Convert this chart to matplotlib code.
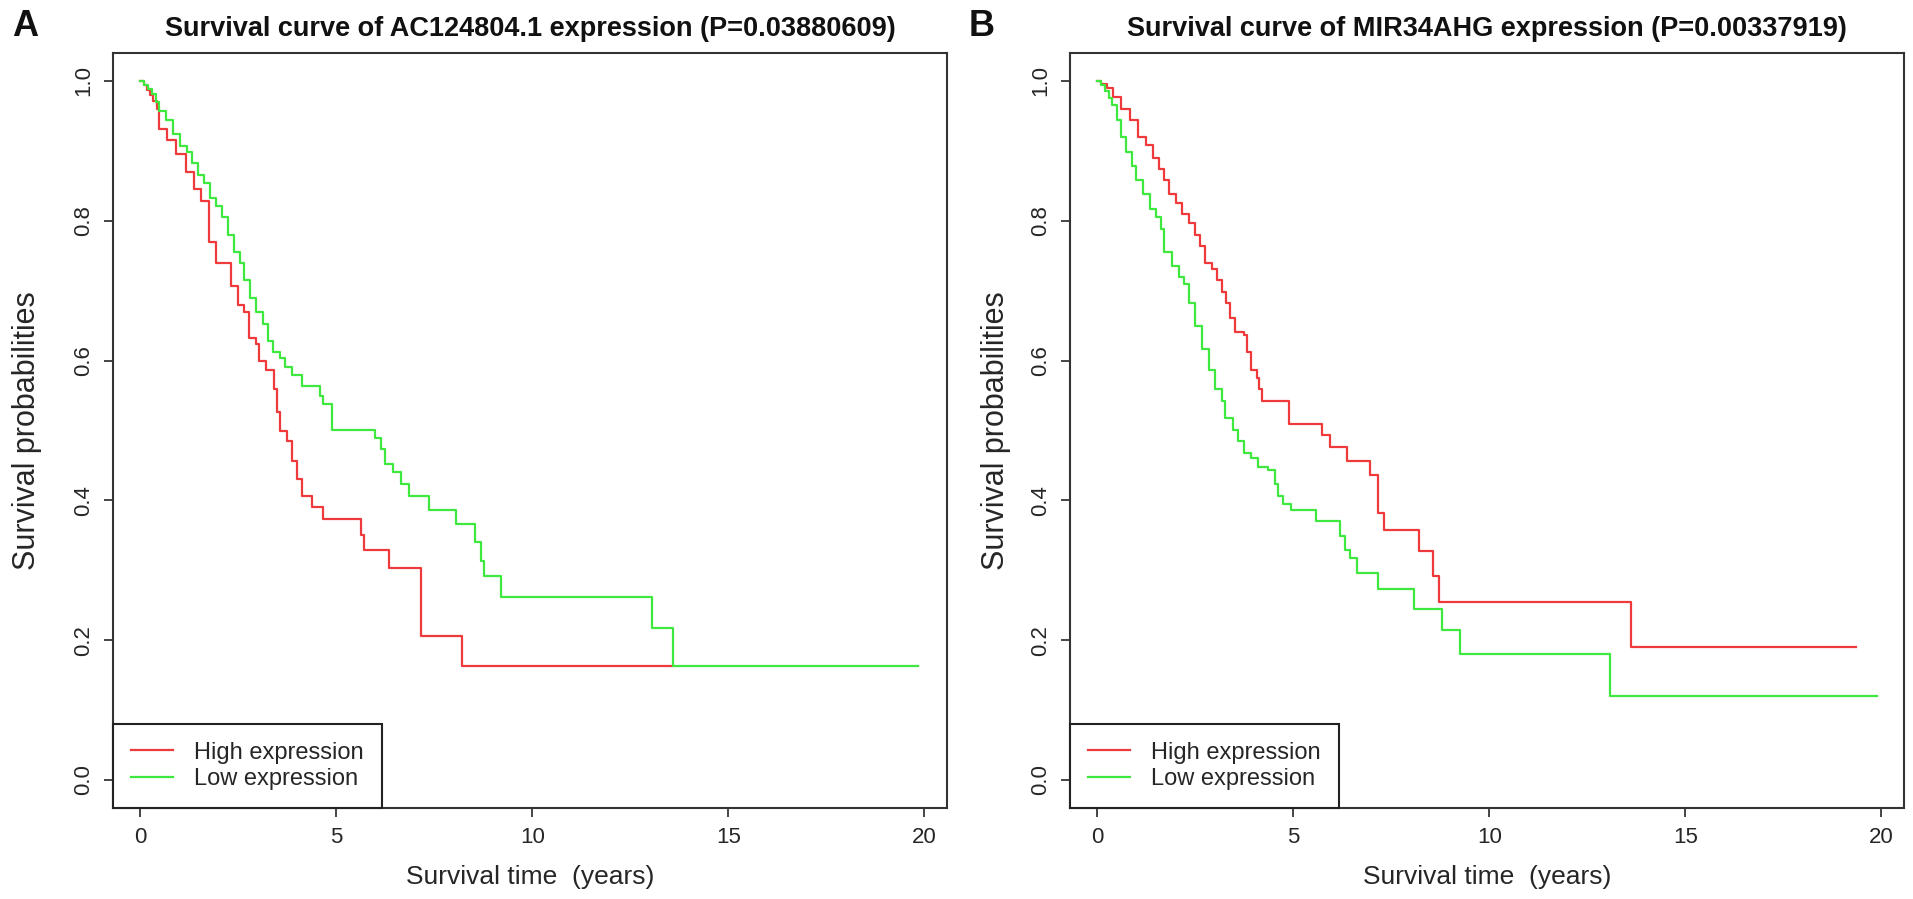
import numpy as np
import matplotlib
matplotlib.use('Agg')
import matplotlib.pyplot as plt

plt.rcParams['font.family'] = ['Liberation Sans', 'DejaVu Sans']

# Panel A: AC124804.1 (Kaplan-Meier steps, years / survival)
a_high_t = [0, 0.08, 0.16, 0.24, 0.33, 0.42, 0.48, 0.69, 0.92, 1.15,
            1.36, 1.54, 1.75, 1.93, 2.3, 2.5, 2.63, 2.76, 2.95, 3.02,
            3.21, 3.41, 3.49, 3.57, 3.73, 3.88, 4.0, 4.12, 4.38, 4.66,
            5.63, 5.7, 6.34, 7.15, 8.2, 13.6]
a_high_s = [1.0, 0.994, 0.987, 0.98, 0.972, 0.96, 0.932, 0.915, 0.895, 0.870,
            0.846, 0.829, 0.77, 0.739, 0.706, 0.68, 0.67, 0.632, 0.624, 0.60,
            0.587, 0.559, 0.526, 0.50, 0.485, 0.456, 0.431, 0.407, 0.39, 0.374,
            0.35, 0.329, 0.304, 0.206, 0.163, 0.163]
a_low_t = [0, 0.1, 0.2, 0.3, 0.4, 0.48, 0.64, 0.84, 1.0, 1.2,
           1.31, 1.47, 1.62, 1.78, 1.93, 2.09, 2.24, 2.4, 2.53, 2.63,
           2.79, 2.95, 3.13, 3.26, 3.38, 3.57, 3.69, 3.88, 4.12, 4.58,
           4.66, 4.9, 5.99, 6.14, 6.25, 6.45, 6.66, 6.84, 7.36, 8.06,
           8.53, 8.68, 8.76, 9.21, 13.05, 13.59, 19.84]
a_low_s = [1.0, 0.994, 0.988, 0.981, 0.97, 0.957, 0.944, 0.924, 0.907, 0.899,
           0.883, 0.866, 0.854, 0.833, 0.821, 0.805, 0.78, 0.756, 0.739, 0.715,
           0.69, 0.669, 0.653, 0.628, 0.612, 0.604, 0.591, 0.579, 0.563, 0.55,
           0.538, 0.501, 0.489, 0.473, 0.452, 0.44, 0.423, 0.407, 0.386, 0.366,
           0.341, 0.313, 0.292, 0.262, 0.218, 0.163, 0.163]

# Panel B: MIR34AHG
b_high_t = [0, 0.1, 0.24, 0.4, 0.6, 0.82, 1.04, 1.24, 1.41, 1.58,
            1.71, 1.83, 2.0, 2.17, 2.33, 2.5, 2.62, 2.75, 2.92, 3.06,
            3.17, 3.29, 3.39, 3.51, 3.73, 3.81, 3.93, 4.06, 4.13, 4.21,
            4.9, 5.74, 5.94, 6.36, 6.95, 7.15, 7.32, 8.21, 8.55, 8.72,
            13.62, 19.35]
b_high_s = [1.0, 0.996, 0.99, 0.977, 0.96, 0.944, 0.92, 0.909, 0.89, 0.874,
            0.858, 0.838, 0.826, 0.809, 0.797, 0.78, 0.764, 0.739, 0.731, 0.715,
            0.698, 0.682, 0.661, 0.641, 0.637, 0.612, 0.587, 0.575, 0.559, 0.542,
            0.509, 0.493, 0.477, 0.456, 0.436, 0.382, 0.358, 0.327, 0.292, 0.255,
            0.191, 0.191]
b_low_t = [0, 0.1, 0.2, 0.29, 0.37, 0.49, 0.6, 0.74, 0.87, 0.99,
           1.16, 1.33, 1.49, 1.61, 1.71, 1.91, 2.08, 2.22, 2.33, 2.5,
           2.67, 2.84, 3.01, 3.17, 3.26, 3.46, 3.59, 3.73, 3.93, 4.1,
           4.35, 4.52, 4.6, 4.74, 4.94, 5.57, 6.2, 6.31, 6.45, 6.62,
           7.15, 8.09, 8.8, 9.25, 13.08, 19.88]
b_low_s = [1.0, 0.994, 0.985, 0.975, 0.965, 0.944, 0.92, 0.899, 0.879, 0.858,
           0.838, 0.817, 0.805, 0.788, 0.756, 0.735, 0.719, 0.71, 0.682, 0.649,
           0.616, 0.587, 0.559, 0.542, 0.518, 0.501, 0.485, 0.468, 0.46, 0.448,
           0.444, 0.423, 0.407, 0.395, 0.386, 0.37, 0.349, 0.329, 0.317, 0.296,
           0.273, 0.244, 0.214, 0.18, 0.12, 0.12]

titles = ['Survival curve of AC124804.1 expression (P=0.03880609)',
          'Survival curve of MIR34AHG expression (P=0.00337919)']
letters = ['A', 'B']
group_labels = ['High expression', 'Low expression']
x_ticks = [0, 5, 10, 15, 20]
y_ticks = [0.0, 0.2, 0.4, 0.6, 0.8, 1.0]

RED = '#ee3a3a'
GREEN = '#3ee83e'
INK = '#262626'

W, H = 1913, 899
fig = plt.figure(figsize=(W / 100, H / 100), dpi=100)

panels = [
    (113, (a_high_t, a_high_s), (a_low_t, a_low_s), -0.103),
    (1070, (b_high_t, b_high_s), (b_low_t, b_low_s), -0.089),
]
ax_w, ax_top, ax_bot = 834, 53, 808

for k, (left, high, low, ylab_x) in enumerate(panels):
    ax = fig.add_axes([left / W, (H - ax_bot) / H, ax_w / W, (ax_bot - ax_top) / H])
    ax.step(high[0], high[1], where='post', color=RED, lw=1.6, label=group_labels[0])
    ax.step(low[0], low[1], where='post', color=GREEN, lw=1.6, label=group_labels[1])

    ax.set_xlim(-0.7, 20.58)
    ax.set_ylim(-0.04, 1.04)
    ax.set_xticks(x_ticks)
    ax.set_xticklabels([str(v) for v in x_ticks])
    ax.set_yticks(y_ticks)
    ax.set_yticklabels([f'{v:.1f}' for v in y_ticks], rotation=90, va='center')
    ax.tick_params(direction='out', length=6.5, width=1.2, colors=INK,
                   labelsize=16, pad=7)
    for sp in ax.spines.values():
        sp.set_color('#333333')
        sp.set_linewidth(1.5)

    ax.set_xlabel('Survival time  (years)', fontsize=19, color=INK, va='center')
    ax.xaxis.set_label_coords(0.5, -0.091)
    ax.set_ylabel('Survival probabilities', fontsize=22, color=INK, va='center')
    ax.yaxis.set_label_coords(ylab_x, 0.5)

    leg = ax.legend(loc='lower left', bbox_to_anchor=(0, 0), borderaxespad=0,
                    fontsize=17, handlelength=1.8, handletextpad=0.9,
                    borderpad=0.75, labelspacing=0.2, fancybox=False,
                    framealpha=1, edgecolor='#222222')
    leg.get_frame().set_linewidth(1.5)
    for t in leg.get_texts():
        t.set_color(INK)

    cx = (left + ax_w / 2) / W
    fig.text(cx, 1 - 29 / H, titles[k], ha='center', va='center',
             fontsize=19.5, fontweight='bold', color='#111111')
    fig.text((left - 88) / W, 1 - 26 / H, letters[k], ha='center', va='center',
             fontsize=26, fontweight='bold', color='#111111')

fig.savefig('out.png', dpi=100)
